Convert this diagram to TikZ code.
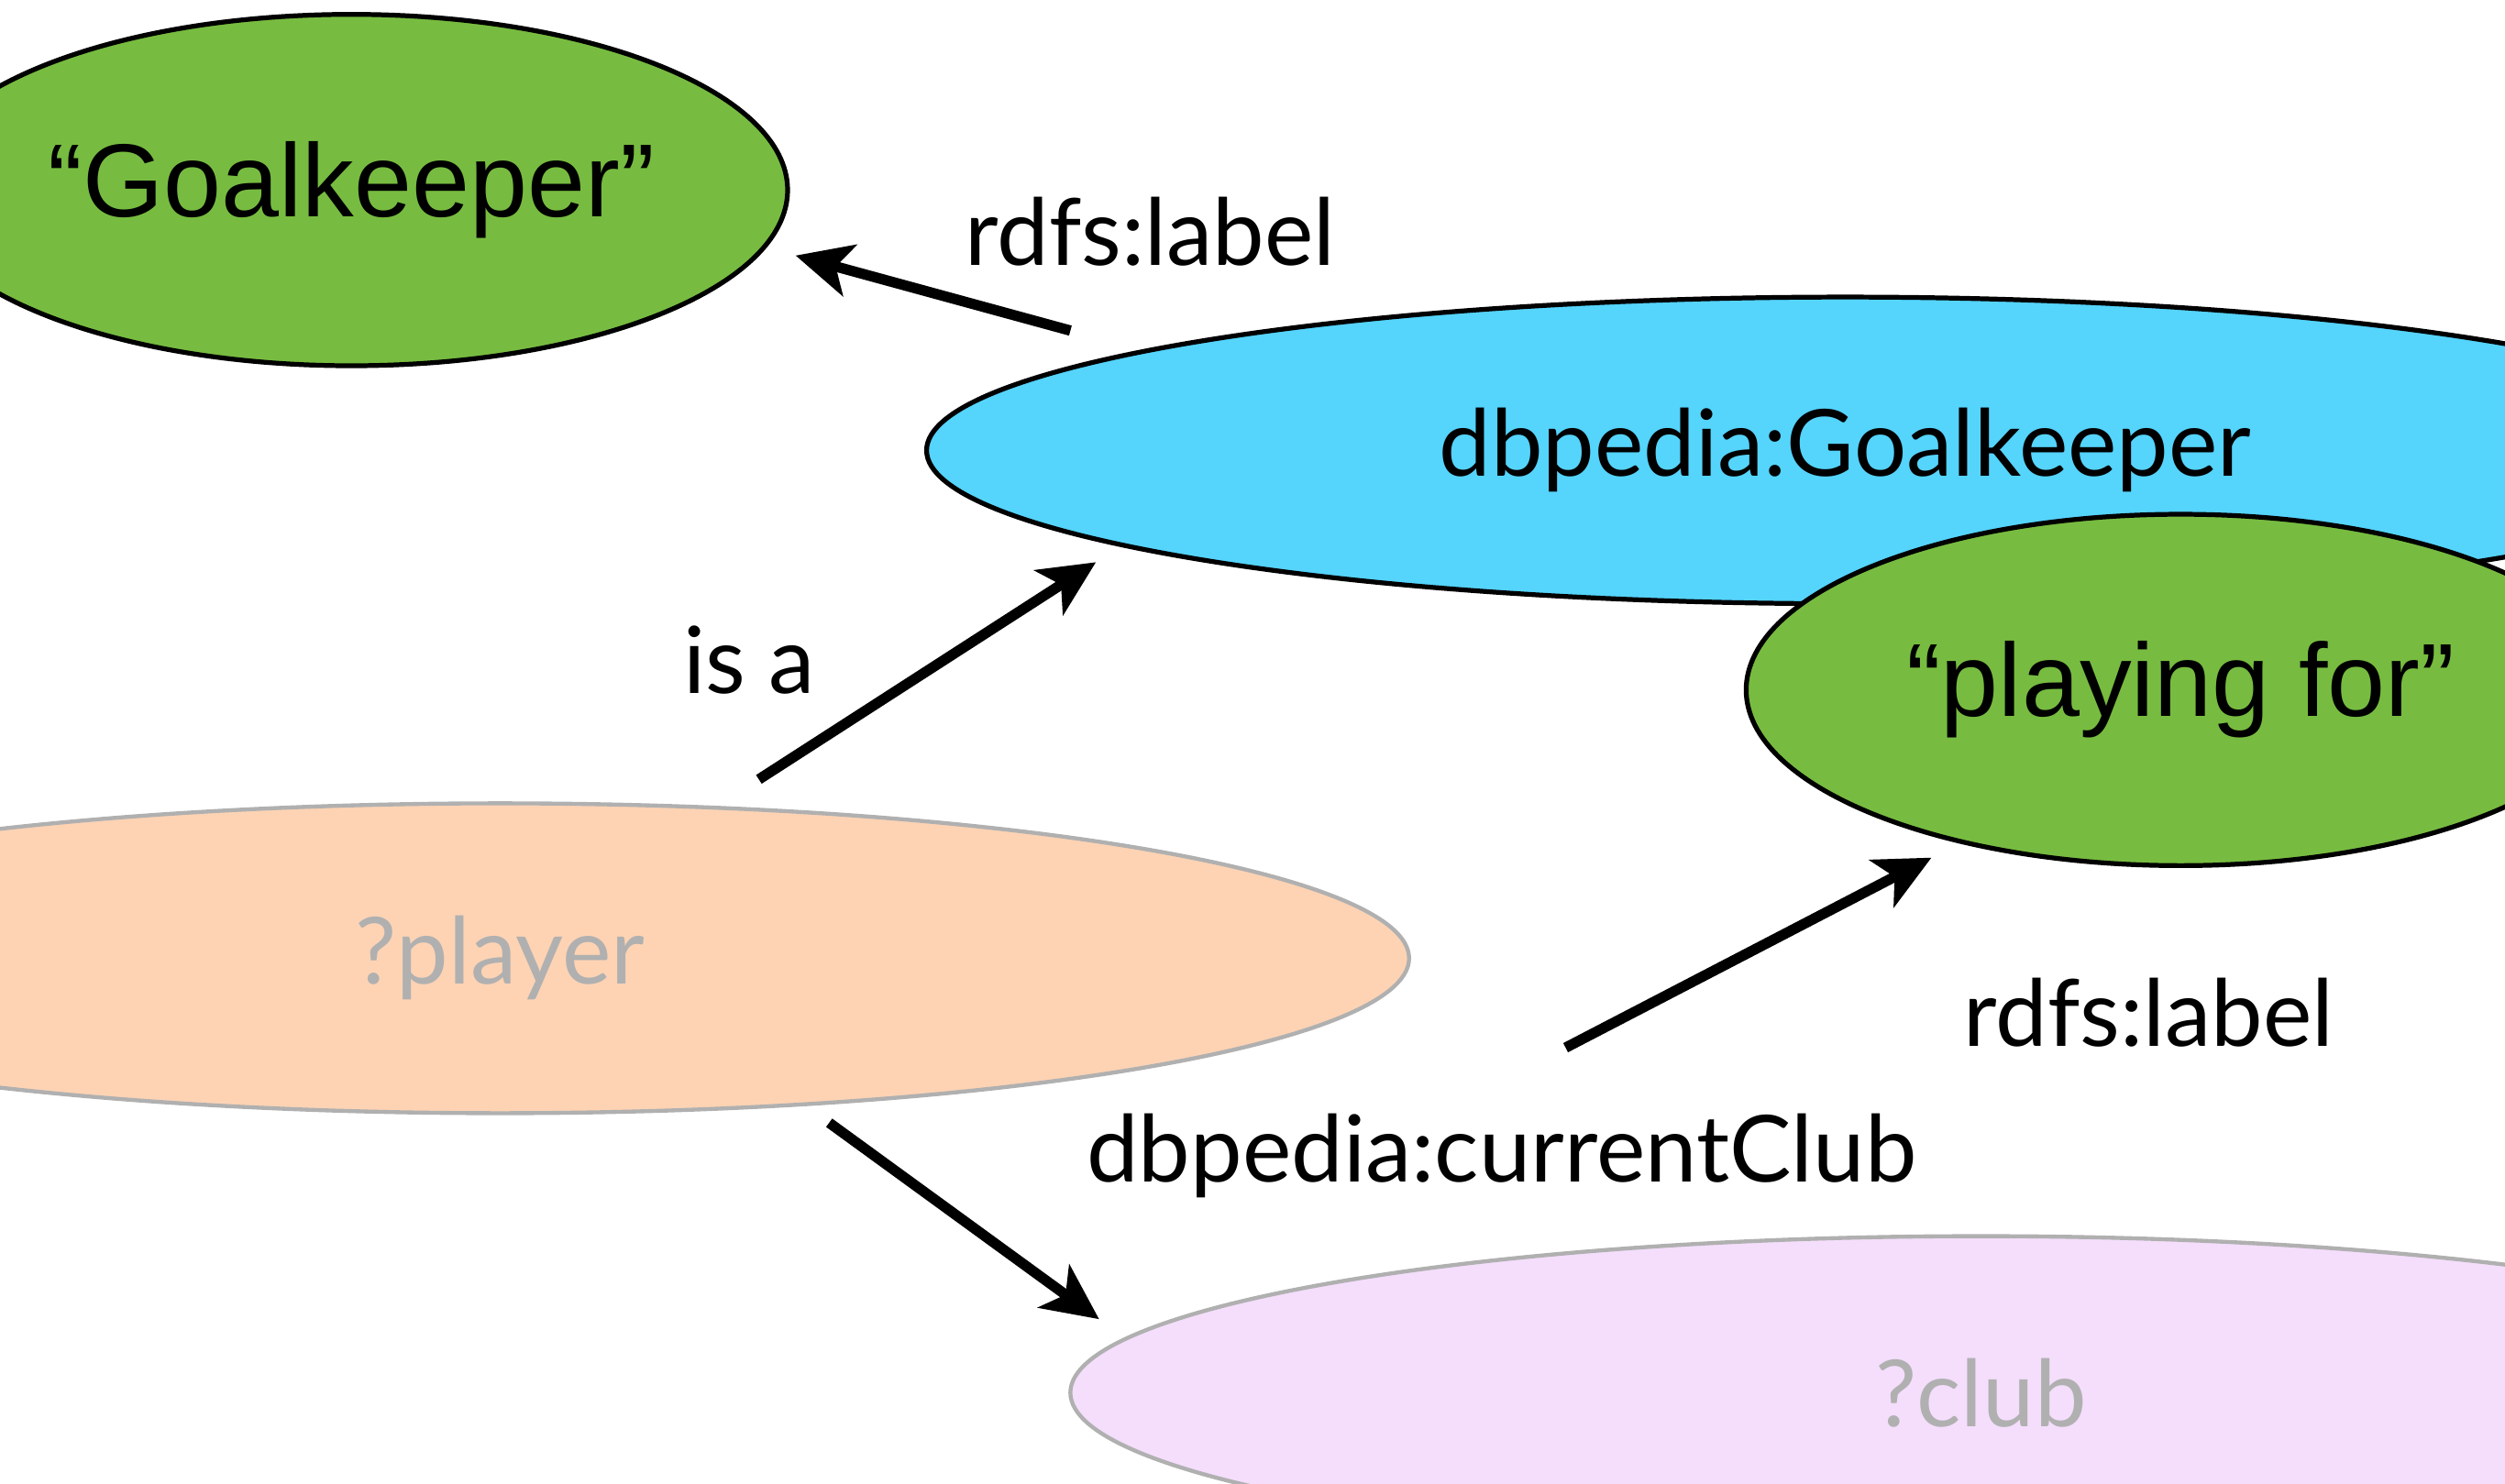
\documentclass[tikz,border=0pt]{standalone}
\usepackage{fontspec}
\setmainfont{Lato}
\newfontfamily\helv{Liberation Sans}
\usetikzlibrary{shapes,positioning,arrows.meta}
\definecolor{litgreen}{RGB}{119,188,64}
\definecolor{classblue}{RGB}{85,212,252}
\definecolor{varpeach}{RGB}{253,211,180}
\definecolor{varlilac}{RGB}{244,222,252}
\definecolor{vargray}{RGB}{176,176,176}
\tikzset {
literal/.style={shape=ellipse,draw=black,line width=0.6mm,fill=litgreen,inner sep=0pt,font=\helv\fontsize{37}{44}\selectfont},
klasse/.style={shape=ellipse,draw=black,line width=0.6mm,fill=classblue,inner sep=0pt},
sparqlvar/.style={shape=ellipse,draw=vargray,line width=0.5mm,text=vargray,inner sep=0pt},
praedikat/.style={anchor=base}
}

\begin{document}
\begin{tikzpicture}
[x=0.2mm,y=-0.2mm,>={Stealth[length=7mm,width=6.6mm,inset=1.8mm]},font=\fontsize{33}{40}\selectfont]
\path[use as bounding box,clip] (0,0) rectangle (1568,929);
\node[literal,minimum width=109.2mm,minimum height=44mm] (gk) at (220,119) {“Goalkeeper”};
\node[klasse,minimum width=230mm,minimum height=38.4mm] (gkclass) at (1155,282) {dbpedia:Goalkeeper};
\node[literal,minimum width=108.8mm,minimum height=44mm] (pf) at (1365,432) {“playing for”};
\node[sparqlvar,fill=varpeach,minimum width=227.6mm,minimum height=38.8mm] (player) at (313,600) {?player};
\node[sparqlvar,fill=varlilac,minimum width=228mm,minimum height=39.2mm] (club) at (1240,872) {?club};
\node[praedikat] (l1) at (720,166) {rdfs:label};
\node[praedikat] (l2) at (469,434) {is a};
\node[praedikat] (l3) at (1345,655) {rdfs:label};
\node[praedikat] (l4) at (940,740) {dbpedia:currentClub};
\coordinate (a1) at (670,207);
\coordinate (a2) at (498,160);
\coordinate (b1) at (475,488);
\coordinate (b2) at (686,352);
\coordinate (c1) at (980,656);
\coordinate (c2) at (1209,537);
\coordinate (d1) at (519,703);
\coordinate (d2) at (688,826);
\draw[->,line width=1.3mm] (a1) -- (a2);
\draw[->,line width=1.3mm] (b1) -- (b2);
\draw[->,line width=1.3mm] (c1) -- (c2);
\draw[->,line width=1.3mm] (d1) -- (d2);
\end{tikzpicture}
\end{document}
